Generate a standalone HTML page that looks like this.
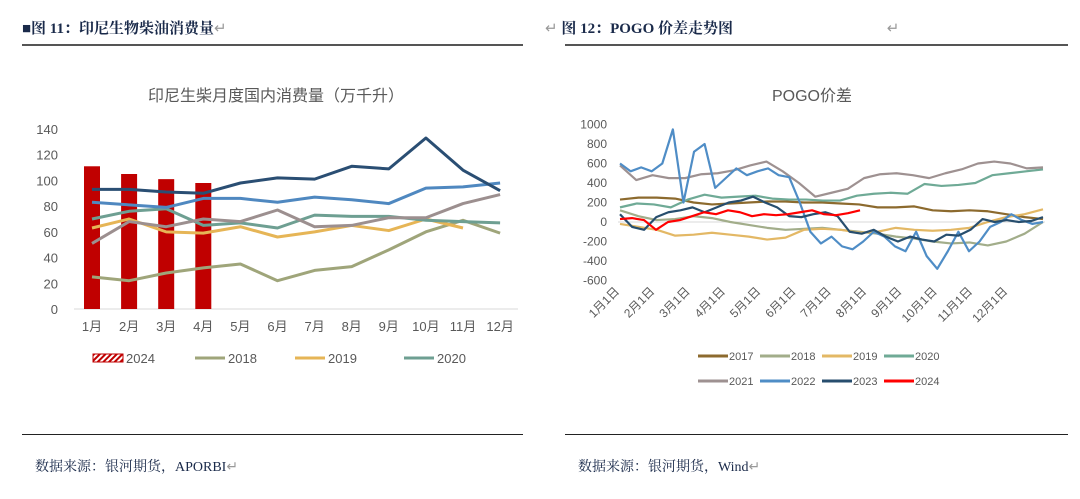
<!DOCTYPE html>
<html><head><meta charset="utf-8"><style>
body{margin:0;width:1080px;height:499px;background:#fff;overflow:hidden;font-family:"Liberation Serif","Noto Serif CJK SC",serif;}
.abs{position:absolute}
</style></head><body>
<div class="abs" style="left:22px;top:17px;font-size:15px;font-weight:bold;color:#1a2a4a;">■图 11：印尼生物柴油消费量<span style="color:#999;font-weight:normal">↵</span></div>
<div class="abs" style="left:545px;top:17px;font-size:15px;font-weight:bold;color:#1a2a4a;"><span style="color:#999;font-weight:normal">↵</span> 图 12：POGO 价差走势图 <span style="color:#999;font-weight:normal;margin-left:150px">↵</span></div>
<div class="abs" style="left:22px;top:44px;width:501px;height:2px;background:#555"></div>
<div class="abs" style="left:565px;top:44px;width:503px;height:2px;background:#555"></div>
<div class="abs" style="left:22px;top:434px;width:501px;height:1px;background:#222"></div>
<div class="abs" style="left:565px;top:434px;width:503px;height:1px;background:#222"></div>
<div class="abs" style="left:35px;top:456px;font-size:14px;color:#1a2a4a">数据来源：银河期货，APORBI<span style="color:#999">↵</span></div>
<div class="abs" style="left:578px;top:456px;font-size:14px;color:#1a2a4a">数据来源：银河期货，Wind<span style="color:#999">↵</span></div>

<svg class="abs" style="left:0;top:0" width="1080" height="499" id="svg" font-family="Liberation Sans, Noto Sans CJK SC, sans-serif">
<defs><pattern id="hatch" width="4" height="4" patternUnits="userSpaceOnUse" patternTransform="rotate(45)"><rect width="4" height="4" fill="#fff"/><rect width="2" height="4" fill="#c00000"/></pattern></defs>
<text x="276" y="101" text-anchor="middle" font-size="16" fill="#595959">印尼生柴月度国内消费量（万千升）</text>
<text x="812" y="101" text-anchor="middle" font-size="16" fill="#595959">POGO价差</text>
<g id="L"></g><g id="R"></g>
</svg>
<script>
const months=['1月','2月','3月','4月','5月','6月','7月','8月','9月','10月','11月','12月'];
const yTicksL=[0,20,40,60,80,100,120,140];
const bars2024=[111,105,101,98];
const s2018=[25,22,28,32,35,22,30,33,46,60,69,59];
const s2019=[63,70,60,59,64,56,60,65,61,70,63];
const s2020=[70,76,78,65,67,63,73,72,72,69,68,67];
const s2021=[51,68,64,70,68,77,64,65,71,71,82,89];
const s2022=[83,81,79,86,86,83,87,85,82,94,95,98];
const s2023=[93,93,91,90,98,102,101,111,109,133,108,92];

const yTicksR=[1000,800,600,400,200,0,-200,-400,-600];
const dateLabels=['1月1日','2月1日','3月1日','4月1日','5月1日','6月1日','7月1日','8月1日','9月1日','10月1日','11月1日','12月1日'];
const p2017=[230,250,250,240,200,180,190,200,210,210,200,200,190,180,150,150,160,120,110,120,110,80,50,30];
const p2018=[120,60,20,30,60,40,0,-30,-60,-80,-70,-60,-80,-100,-120,-150,-170,-200,-220,-210,-240,-200,-120,0];
const p2019=[-20,-50,-80,-140,-130,-110,-130,-150,-180,-160,-80,-70,-80,-110,-100,-60,-80,-90,-80,-60,0,50,80,130];
const p2020=[150,190,180,150,230,280,250,260,270,240,230,230,220,220,270,290,300,290,390,370,380,400,480,500,520,540];
const p2021=[580,430,480,450,450,490,500,530,580,620,520,400,260,300,340,450,490,500,480,450,500,540,600,620,600,550,560];
const p2022=[600,520,560,520,600,950,200,720,800,350,450,550,480,520,550,480,460,200,-100,-220,-150,-250,-280,-200,-100,-150,-250,-300,-100,-350,-480,-300,-100,-300,-200,-50,0,80,20,-20,0];
const p2023=[80,-50,-80,50,100,120,150,100,150,200,220,260,200,150,60,50,80,100,60,-100,-120,-80,-150,-200,-150,-180,-200,-130,-140,-80,30,0,20,0,10,50];
const p2024=[30,40,20,-80,0,20,60,100,80,120,100,60,80,70,80,100,120,80,70,90,120];

const NS='http://www.w3.org/2000/svg';
function mk(parent,tag,attrs,text){const e=document.createElementNS(NS,tag);for(const k in attrs)e.setAttribute(k,attrs[k]);if(text!==undefined)e.textContent=text;parent.appendChild(e);return e;}

// Left chart
const L=document.getElementById('L');
const lx=i=>92+i*37.1, ly=v=>309-v*180/140;
yTicksL.forEach(v=>{const t=mk(L,'text',{x:58,y:ly(v)+5,'text-anchor':'end','font-size':13,fill:'#595959'},v);

});
const ax=mk(L,'line',{x1:74,x2:518,y1:ly(0),y2:ly(0),stroke:'#d9d9d9','stroke-width':1});


months.forEach((m,i)=>{const t=mk(L,'text',{x:lx(i),y:331,'text-anchor':'middle','font-size':13,fill:'#595959'},m);

});
bars2024.forEach((v,i)=>{const r=mk(L,'rect',{x:lx(i)-8,y:ly(v),width:16,height:ly(0)-ly(v),fill:'#c00000'});

});
const seriesL=[['2018',s2018,'#9fa57a'],['2019',s2019,'#e6b556'],['2020',s2020,'#6e9f92'],['2021',s2021,'#9c8f8f'],['2022',s2022,'#4f88c0'],['2023',s2023,'#2a4e73']];
seriesL.forEach(([n,d,c])=>{const p=mk(L,'polyline',{points:d.map((v,i)=>lx(i)+','+ly(v)).join(' '),fill:'none',stroke:c,'stroke-width':3,'stroke-linejoin':'round'});

});
const legL=[['2024',null,93],['2018','#9fa57a',195],['2019','#e6b556',295],['2020','#6e9f92',404]];
legL.forEach(([n,c,x])=>{const g=mk(L,'g',{});


if(c)mk(g,'line',{x1:x,x2:x+30,y1:358,y2:358,stroke:c,'stroke-width':3});else mk(g,'rect',{x:x,y:354,width:30,height:8,fill:'url(#hatch)',stroke:'#c00000'});
mk(g,'text',{x:x+33,y:363,'font-size':13,fill:'#595959'},n);});

// Right chart
const R=document.getElementById('R');
const x0=620,xm=35.3,xEnd=1043;
const ry=v=>222-v*0.0975;
yTicksR.forEach(v=>{const t=mk(R,'text',{x:607,y:ry(v)+4,'text-anchor':'end','font-size':12,fill:'#595959'},v);

});
const axr=mk(R,'line',{x1:618,x2:1045,y1:ry(0),y2:ry(0),stroke:'#d9d9d9','stroke-width':1});


dateLabels.forEach((d,i)=>{const x=x0+i*xm;const t=mk(R,'text',{x:x,y:292,'text-anchor':'end','font-size':12,fill:'#595959',transform:`rotate(-45 ${x} 292)`},d);

});
const seriesR=[['2017',p2017,'#8c6a2e',xEnd],['2018',p2018,'#a2ad8a',xEnd],['2019',p2019,'#e3b865',xEnd],['2020',p2020,'#6faa96',xEnd],['2021',p2021,'#9e9191',xEnd],['2022',p2022,'#4f8dc6',xEnd],['2023',p2023,'#274e6e',xEnd],['2024',p2024,'#ff0000',x0+6.8*xm]];
seriesR.forEach(([n,d,c,xe])=>{const st=(xe-x0)/(d.length-1);
const p=mk(R,'polyline',{points:d.map((v,i)=>(x0+i*st)+','+ry(v)).join(' '),fill:'none',stroke:c,'stroke-width':2.2,'stroke-linejoin':'round'});

});
seriesR.forEach(([n,d,c],i)=>{const x=698+(i%4)*62,y=i<4?356:381;const g=mk(R,'g',{});


mk(g,'line',{x1:x,x2:x+30,y1:y,y2:y,stroke:c,'stroke-width':3});
mk(g,'text',{x:x+31,y:y+4,'font-size':11,fill:'#595959'},n);});
</script>
</body></html>
